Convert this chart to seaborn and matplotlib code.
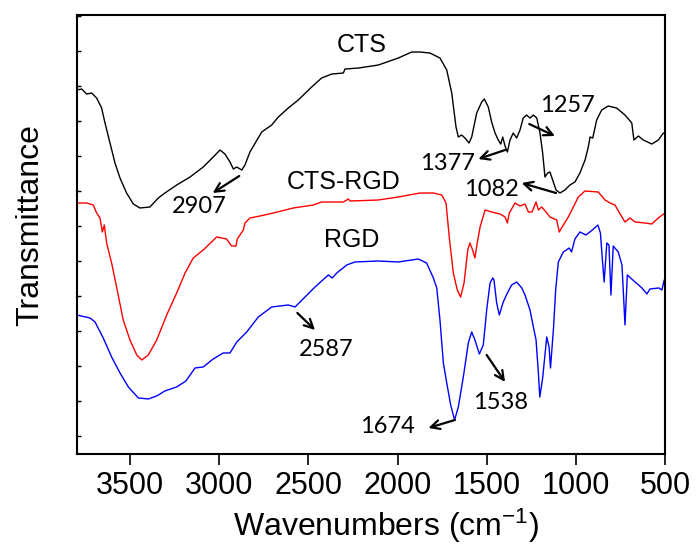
import numpy as np
import pandas as pd
import matplotlib
matplotlib.use("Agg")
import matplotlib.pyplot as plt
import seaborn as sns

# FTIR spectra (wavenumber in cm-1, transmittance in arbitrary offset units)
cts_wn = [3800, 3772, 3744, 3716, 3688, 3660, 3641, 3613, 3585, 3557, 3520, 3482, 3445, 3389,
          3342, 3305, 3239, 3164, 3090, 3034, 2996, 2968, 2940, 2921, 2902, 2874, 2856, 2828,
          2772, 2762, 2706, 2669, 2613, 2557, 2482, 2426, 2369, 2304, 2295, 2220, 2108, 1996,
          1921, 1874, 1818, 1762, 1724, 1696, 1672, 1659, 1640, 1622, 1599, 1584, 1556, 1528,
          1513, 1491, 1472, 1453, 1435, 1421, 1410, 1397, 1384, 1369, 1351, 1332, 1313, 1295,
          1276, 1257, 1238, 1219, 1201, 1186, 1173, 1158, 1145, 1130, 1111, 1089, 1061, 1033,
          1005, 977, 948, 930, 920, 905, 883, 855, 818, 771, 724, 686, 674, 649, 621, 574, 537,
          509, 500]
cts_t = [364, 365, 360, 361, 356, 346, 331, 311, 291, 276, 261, 250, 246, 247,
         256, 261, 269, 277, 287, 297, 304, 300, 292, 285, 287, 284, 289, 302,
         319, 322, 329, 337, 346, 354, 367, 376, 380, 381, 385, 386, 389, 396,
         402, 402, 401, 396, 384, 361, 327, 317, 319, 316, 311, 317, 341, 352,
         355, 347, 332, 321, 314, 310, 317, 308, 302, 314, 321, 316, 324, 336,
         339, 336, 339, 336, 321, 301, 277, 281, 282, 274, 264, 261, 264, 269,
         272, 281, 294, 307, 317, 316, 334, 344, 348, 346, 339, 331, 314, 318, 314, 310, 314,
         321, 321]

cts_rgd_wn = [3800, 3744, 3707, 3688, 3669, 3656, 3645, 3632, 3604, 3567, 3539, 3501, 3463, 3435,
              3398, 3351, 3295, 3239, 3192, 3146, 3090, 3015, 2959, 2931, 2906, 2899, 2865, 2856,
              2828, 2772, 2697, 2585, 2473, 2426, 2304, 2276, 2267, 2108, 1996, 1874, 1799, 1752,
              1728, 1710, 1687, 1665, 1646, 1627, 1606, 1594, 1579, 1566, 1553, 1537, 1509, 1472,
              1425, 1397, 1384, 1373, 1341, 1313, 1285, 1266, 1246, 1223, 1210, 1191, 1167, 1145,
              1107, 1093, 1070, 1042, 1014, 986, 949, 874, 836, 808, 780, 758, 724, 696, 668, 612,
              574, 537, 500]
cts_rgd_t = [251, 251, 249, 241, 236, 222, 229, 211, 191, 159, 134, 114, 99, 94,
             99, 114, 139, 161, 181, 196, 204, 217, 215, 208, 208, 215, 224, 231,
             236, 238, 241, 246, 249, 252, 252, 255, 253, 254, 257, 261, 261, 259,
             251, 217, 181, 164, 157, 171, 204, 211, 204, 196, 211, 227, 244, 242,
             240, 237, 231, 241, 251, 248, 250, 242, 242, 252, 244, 247, 242, 237,
             234, 222, 229, 237, 247, 257, 263, 262, 254, 251, 249, 242, 232, 236, 232, 231,
             230, 236, 241]

rgd_wn = [3800, 3725, 3697, 3651, 3604, 3557, 3510, 3454, 3398, 3351, 3305, 3239, 3187, 3136,
          3090, 3034, 2978, 2940, 2902, 2846, 2781, 2706, 2613, 2575, 2547, 2463, 2388, 2366,
          2341, 2285, 2239, 2108, 1996, 1884, 1837, 1799, 1780, 1762, 1743, 1724, 1702, 1680,
          1659, 1631, 1603, 1584, 1566, 1541, 1519, 1500, 1481, 1466, 1459, 1444, 1429, 1407,
          1384, 1360, 1332, 1303, 1285, 1257, 1238, 1223, 1210, 1202, 1186, 1163, 1150, 1142,
          1125, 1113, 1098, 1070, 1037, 1024, 1005, 977, 943, 907, 876, 862, 852, 841, 826, 814,
          803, 790, 762, 741, 724, 711, 674, 629, 601, 584, 534, 517, 504]
rgd_t = [139, 136, 132, 116, 97, 81, 67, 56, 55, 58, 63, 67, 73, 86,
         87, 95, 101, 101, 112, 122, 137, 147, 149, 147, 152, 167, 179, 176,
         181, 189, 192, 193, 192, 195, 191, 176, 166, 134, 91, 71, 49, 34,
         47, 77, 111, 122, 114, 100, 109, 144, 171, 176, 174, 151, 139, 152,
         161, 169, 172, 166, 159, 144, 127, 114, 81, 57, 76, 117, 107, 86,
         126, 164, 192, 202, 206, 202, 215, 222, 219, 224, 229, 221, 197, 172, 211, 209,
         159, 208, 202, 189, 129, 179, 173, 166, 160, 165, 166, 164, 174]

series_names = ["CTS", "CTS-RGD", "RGD"]
series_colors = ["black", "#ff0000", "#0000ff"]

# Band assignments: label, arrow head (wn, T), arrow tail (wn, T), text centre (wn, T)
peak_labels = ["2907", "1377", "1257", "1082", "2587", "1538", "1674"]
arrow_heads = [(3037, 261), (1547, 295), (1117, 318), (1304, 271), (2463, 124), (1397, 72), (1827, 26)]
arrow_tails = [(2888, 278), (1397, 304), (1261, 330), (1111, 261), (2562, 141), (1500, 99), (1678, 34)]
label_pos = [(3114, 248), (1720, 291), (1047, 349), (1476, 265), (2398, 104), (1425, 51), (2059, 27)]

name_pos = [(2199, 409), (2300, 272), (2256, 214)]

x_ticks = [3500, 3000, 2500, 2000, 1500, 1000, 500]

frames = []
for name, wn, t in zip(series_names,
                       [cts_wn, cts_rgd_wn, rgd_wn],
                       [cts_t, cts_rgd_t, rgd_t]):
    frames.append(pd.DataFrame({"wavenumber": wn, "transmittance": t, "sample": name}))
df = pd.concat(frames, ignore_index=True)

sns.set_style("ticks")
plt.rcParams["font.family"] = ["Liberation Sans", "DejaVu Sans"]
plt.rcParams["text.color"] = "black"
plt.rcParams["axes.labelcolor"] = "black"
plt.rcParams["xtick.color"] = "black"
plt.rcParams["ytick.color"] = "black"

fig = plt.figure(figsize=(6.97, 5.57), dpi=100)
ax = fig.add_axes([0.110, 0.185, 0.844, 0.788])

for name, color in zip(series_names, series_colors):
    sns.lineplot(data=df[df["sample"] == name], x="wavenumber", y="transmittance",
                 color=color, lw=1.0, estimator=None, sort=True, ax=ax, legend=False)

ax.set_xlim(3800, 500)
ax.set_ylim(0, 439)
ax.set_xticks(x_ticks)
ax.set_xticklabels([str(v) for v in x_ticks], fontsize=22)
ax.tick_params(axis="x", direction="out", length=8, width=1.2, pad=4, colors="black")
ax.set_yticks(np.arange(438, 0, -35))
ax.set_yticklabels([])
ax.tick_params(axis="y", direction="in", length=3, width=1.0, colors="black")

for sp in ax.spines.values():
    sp.set_linewidth(1.5)
    sp.set_color("black")

ax.set_xlabel(r"Wavenumbers (cm$\mathregular{^{-1}}$)", fontsize=23)
ax.xaxis.set_label_coords(0.526, -0.12)
ax.set_ylabel("Transmittance", fontsize=23)
ax.yaxis.set_label_coords(-0.054, 0.522)

for name, (x, y) in zip(series_names, name_pos):
    ax.text(x, y, name, fontsize=18, ha="center", va="center", color="black")

for lab, head, tail, pos in zip(peak_labels, arrow_heads, arrow_tails, label_pos):
    ax.annotate("", xy=head, xytext=tail,
                arrowprops=dict(arrowstyle="->", color="black", lw=1.6,
                                mutation_scale=16, shrinkA=0, shrinkB=0))
    ax.text(pos[0], pos[1], lab, fontsize=17, ha="center", va="center", color="black",
            family=["Lato", "DejaVu Sans"])

fig.savefig("out.png", dpi=100)
